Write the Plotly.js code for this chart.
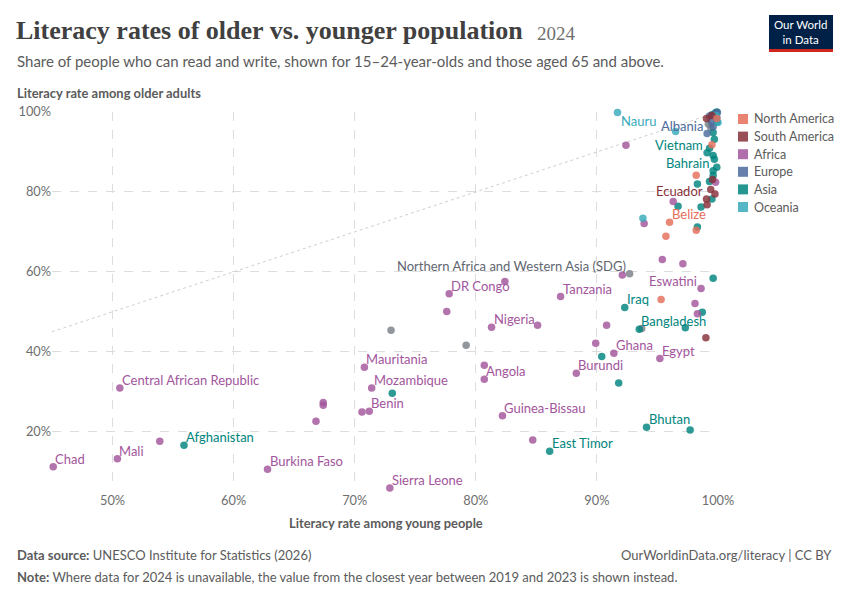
<!DOCTYPE html>
<html>
<head>
<meta charset="utf-8">
<script src="https://cdn.plot.ly/plotly-3.0.1.min.js"></script>
<style>
html,body{margin:0;padding:0;background:#fff;}
#chart{width:850px;height:600px;}
</style>
</head>
<body>
<div id="chart"></div>
<script>
// ---------------- DATA ----------------
const regionNames = ["North America","South America","Africa","Europe","Asia","Oceania"];
const regionColors = ["#E56E5A","#883039","#A2559C","#4C6A9C","#00847E","#38AABA"];
const aggregateColor = "#7a8089";

const naNames = ["","","Belize","","","",""];
const naYoung = [99.5, 98.2, 96.0, 95.7, 98.2, 95.3, 99.9];
const naOld   = [91.8, 84.2, 72.4, 68.9, 70.4, 53.1, 98.4];

const saNames = ["","","","","Ecuador","","",""];
const saYoung = [99.05, 99.5, 99.55, 99.4, 99.05, 99.1, 99.75, 99.0];
const saOld   = [98.4, 99.1, 83.1, 80.6, 78.2, 76.8, 79.5, 43.5];

const afNames = ["Chad","Mali","","Central African Republic","Burkina Faso","","","","Mauritania","Mozambique",
  "Benin","","Sierra Leone","Guinea-Bissau","","DR Congo","","","Nigeria","",
  "Tanzania","","","Ghana","Burundi","Angola","","Egypt","","Eswatini",
  "","","","","","","",""];
const afYoung = [45.1, 50.4, 53.9, 50.6, 62.8, 66.8, 67.4, 67.4, 70.8, 71.4,
  71.2, 70.6, 72.9, 82.2, 84.7, 77.8, 82.4, 77.6, 81.3, 85.1,
  87.0, 90.8, 89.9, 91.4, 88.3, 80.7, 80.7, 95.2, 92.1, 98.6,
  98.1, 98.3, 95.4, 97.1, 93.9, 92.4, 96.3, 99.8];
const afOld = [11.2, 13.2, 17.6, 30.9, 10.6, 22.6, 27.3, 26.6, 36.1, 30.9,
  25.1, 24.9, 5.9, 24.0, 17.9, 54.5, 57.6, 50.1, 46.1, 46.6,
  53.8, 46.6, 42.1, 39.6, 34.6, 33.1, 36.6, 38.3, 59.2, 55.8,
  52.1, 49.5, 63.1, 62.0, 72.1, 91.7, 77.6, 82.4];

const euNames = ["Albania","","","","","",""];
const euYoung = [99.1, 99.75, 99.45, 99.9, 99.6, 99.95, 99.3];
const euOld   = [94.6, 99.5, 97.6, 98.6, 96.3, 99.9, 99.0];

const asNames = ["Afghanistan","","East Timor","Bhutan","","","","Iraq","Bangladesh","",
  "","","","","","","","","","Bahrain",
  "","","","Vietnam","","","","","","",""];
const asYoung = [55.9, 73.1, 86.1, 94.1, 97.7, 91.8, 90.4, 92.3, 93.5, 97.3,
  98.7, 99.6, 98.3, 96.7, 98.6, 99.5, 98.3, 99.3, 99.6, 99.6,
  99.9, 99.6, 99.7, 99.1, 99.3, 99.7, 99.6, 99.8, 99.9, 99.5, 99.9];
const asOld = [16.6, 29.6, 15.1, 21.1, 20.4, 32.2, 38.8, 51.1, 45.6, 46.0,
  49.9, 58.4, 71.2, 76.4, 76.2, 78.2, 82.0, 82.6, 84.1, 85.3,
  86.2, 89.1, 88.2, 89.8, 90.9, 93.2, 94.9, 99.8, 100, 99.3, 97.5];

const ocNames = ["Nauru","","","",""];
const ocYoung = [91.7, 93.8, 96.5, 99.85, 100];
const ocOld   = [99.9, 73.4, 95.1, 99.1, 97.4];

const agNames = ["Northern Africa and Western Asia (SDG)","","","","",""];
const agYoung = [92.7, 73.0, 79.2, 93.7, 99.4, 99.2];
const agOld   = [59.5, 45.4, 41.6, 45.8, 96.1, 97.0];

const xTicks = [50, 60, 70, 80, 90, 100];
const yTicks = [20, 40, 60, 80, 100];
const xRange = [45, 100];
const yRange = [5.9, 100];

// label placement: 'r' = upper right of point, 'l' = upper left, 'rb' = lower right
const labelSide = {"Eswatini":"l","Northern Africa and Western Asia (SDG)":"l","Ecuador":"l",
  "Bahrain":"l","Vietnam":"l","Albania":"l","Nauru":"rb"};

// ---------------- BUILD ----------------
const groups = [
  {names: agNames, x: agYoung, y: agOld, color: aggregateColor},
  {names: asNames, x: asYoung, y: asOld, color: regionColors[4]},
  {names: afNames, x: afYoung, y: afOld, color: regionColors[2]},
  {names: euNames, x: euYoung, y: euOld, color: regionColors[3]},
  {names: ocNames, x: ocYoung, y: ocOld, color: regionColors[5]},
  {names: saNames, x: saYoung, y: saOld, color: regionColors[1]},
  {names: naNames, x: naYoung, y: naOld, color: regionColors[0]}
];

const traces = [{
  x: xRange, y: [xRange[0], xRange[1]], mode: "lines", type: "scatter",
  line: {color: "#cfcfcf", width: 1, dash: "dot"}, hoverinfo: "skip", showlegend: false
}];
groups.forEach(g => {
  traces.push({
    type: "scatter", mode: "markers", x: g.x, y: g.y, text: g.names,
    marker: {color: g.color, size: 7.5, opacity: 0.82, line: {width: 0}},
    cliponaxis: false, showlegend: false, hoverinfo: "text+x+y"
  });
});

const PL = 52, PR = 718, PT = 112, PB = 488;
const px = v => (v - PL) / (PR - PL);
const py = v => (PB - v) / (PB - PT);
const FONT = "Lato, 'Noto Sans', sans-serif";

const ann = [];
groups.forEach(g => {
  g.names.forEach((n, i) => {
    if (!n) return;
    const side = labelSide[n] || "r";
    ann.push({
      x: g.x[i], y: g.y[i], xref: "x", yref: "y", text: n, showarrow: false,
      xanchor: side === "l" ? "right" : "left", yanchor: "middle",
      xshift: side === "l" ? -2 : (side === "rb" ? 2 : 0),
      yshift: side === "rb" ? -8.5 : 8,
      font: {family: FONT, size: 13, color: g.color === aggregateColor ? "#5f6670" : g.color}
    });
  });
});

function textAnn(x, y, text, opts) {
  return Object.assign({
    x: px(x), y: py(y), xref: "paper", yref: "paper", text: text, showarrow: false,
    xanchor: "left", yanchor: "middle",
    font: {family: FONT, size: 13, color: "#5b5b5b"}
  }, opts || {});
}

ann.push(textAnn(14, 31, "Literacy rates of older vs. younger population",
  {font: {family: "'Liberation Serif', 'DejaVu Serif', serif", size: 26, color: "#404040", weight: 700}}));
ann.push(textAnn(535, 33, "2024",
  {font: {family: "'Liberation Serif', 'DejaVu Serif', serif", size: 19, color: "#707070"}}));
ann.push(textAnn(15, 61, "Share of people who can read and write, shown for 15–24-year-olds and those aged 65 and above.",
  {font: {family: FONT, size: 15, color: "#5b5b5b"}}));
ann.push(textAnn(15, 93, "<b>Literacy rate among older adults</b>",
  {font: {family: FONT, size: 12.9, color: "#5b5b5b"}}));
ann.push(textAnn(386, 523, "<b>Literacy rate among young people</b>",
  {xanchor: "center", font: {family: FONT, size: 12.9, color: "#5b5b5b"}}));
ann.push(textAnn(15, 555, "<b>Data source:</b> UNESCO Institute for Statistics (2026)"));
ann.push(textAnn(834, 555, "OurWorldinData.org/literacy | CC BY", {xanchor: "right"}));
ann.push(textAnn(15, 577, "<b>Note:</b> Where data for 2024 is unavailable, the value from the closest year between 2019 and 2023 is shown instead."));
ann.push(textAnn(801, 32, "Our World<br>in Data",
  {xanchor: "center", font: {family: FONT, size: 11.5, color: "#ffffff"}}));

const shapes = [
  {type: "rect", xref: "paper", yref: "paper", x0: px(769), x1: px(833), y0: py(49), y1: py(15),
   fillcolor: "#002147", line: {width: 0}, layer: "above"},
  {type: "rect", xref: "paper", yref: "paper", x0: px(769), x1: px(833), y0: py(52), y1: py(49),
   fillcolor: "#ce261e", line: {width: 0}, layer: "above"}
];

// legend (drawn from region arrays)
regionNames.forEach((name, i) => {
  const cy = 119 + i * 17.6;
  shapes.push({type: "rect", xref: "paper", yref: "paper",
    x0: px(738), x1: px(748), y0: py(cy + 5), y1: py(cy - 5),
    fillcolor: regionColors[i], opacity: 0.85, line: {width: 0}});
  ann.push(textAnn(752, cy, name, {font: {family: FONT, size: 12.5, color: "#5b5b5b"}}));
});

const layout = {
  width: 850, height: 600,
  margin: {l: PL, r: 850 - PR, t: PT, b: 600 - PB, pad: 0},
  paper_bgcolor: "#ffffff", plot_bgcolor: "#ffffff",
  showlegend: false,
  font: {family: FONT, color: "#6e6e6e"},
  xaxis: {
    range: xRange, tickvals: xTicks, ticktext: xTicks.map(v => v + "%"),
    showgrid: true, gridcolor: "#dddddd", griddash: "dash", gridwidth: 1,
    zeroline: false, showline: false, ticks: "", fixedrange: true, ticklabelstandoff: 3,
    tickfont: {family: FONT, size: 12.8, color: "#6e6e6e"}
  },
  yaxis: {
    range: yRange, tickvals: yTicks, ticktext: yTicks.map(v => v + "%"),
    showgrid: true, gridcolor: "#dddddd", griddash: "dash", gridwidth: 1,
    zeroline: false, showline: false, ticks: "", fixedrange: true,
    tickfont: {family: FONT, size: 12.8, color: "#6e6e6e"}
  },
  annotations: ann,
  shapes: shapes
};

Plotly.newPlot("chart", traces, layout, {displayModeBar: false, staticPlot: true});
</script>
</body>
</html>
